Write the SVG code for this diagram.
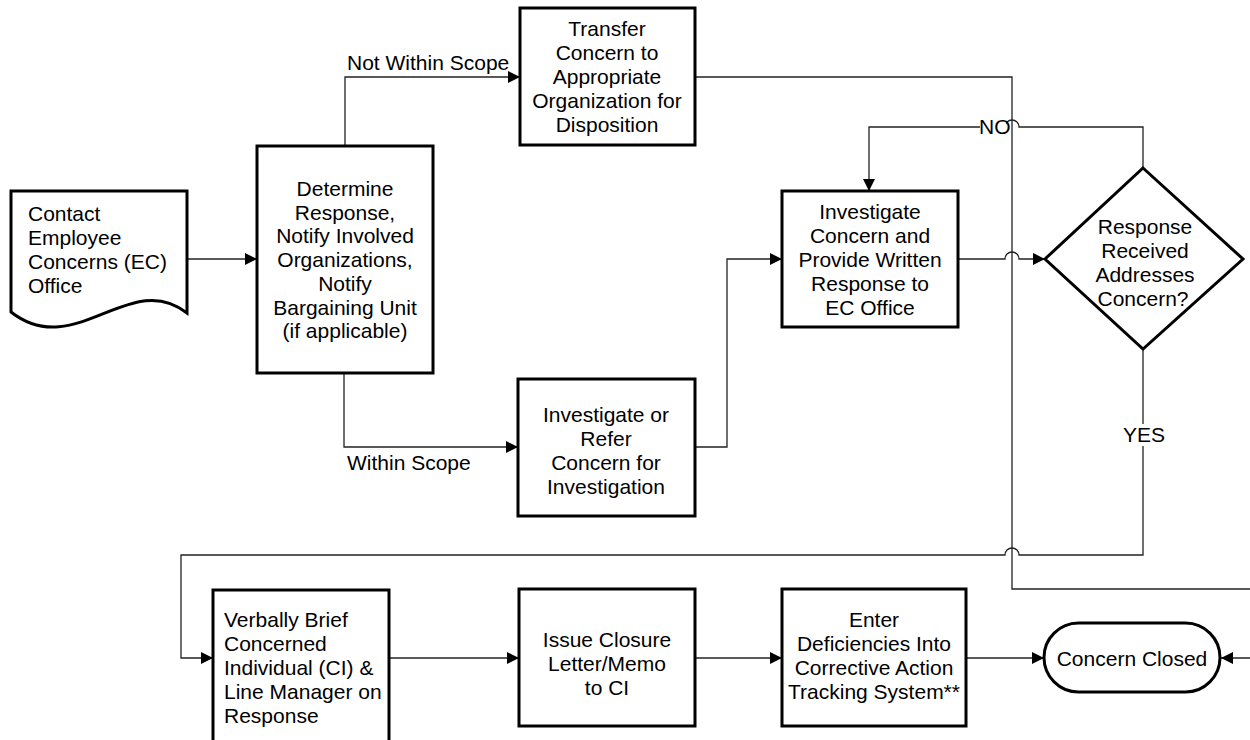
<svg xmlns="http://www.w3.org/2000/svg" width="1250" height="740" viewBox="0 0 1250 740">
<defs>
<marker id="arr" markerWidth="12" markerHeight="12" refX="12" refY="6" orient="auto" markerUnits="userSpaceOnUse">
<path d="M0,0 L12,6 L0,12 Z" fill="#000"/>
</marker>
<style>
.box{fill:#fff;stroke:#000;stroke-width:3}
.con{fill:none;stroke:#222;stroke-width:1.3}
text{font-family:"Liberation Sans",Arial,sans-serif;font-size:21px;fill:#000}
.c{text-anchor:middle}
.lbl{fill:#fff;stroke:none}
</style>
</defs>
<rect width="1250" height="740" fill="#fff"/>
<g id="connectors">
<path class="con" d="M187,259 H257" marker-end="url(#arr)"/>
<path class="con" d="M345,146 V77 H520" marker-end="url(#arr)"/>
<path class="con" d="M344,373 V447 H518" marker-end="url(#arr)"/>
<path class="con" d="M695,447 H727 V259 H782" marker-end="url(#arr)"/>
<path class="con" d="M695,77 H1012 V589 H1262 V658 H1221" marker-end="url(#arr)"/>
<path class="con" d="M958,259 H1005 A7,7 0 0 1 1019,259 H1045" marker-end="url(#arr)"/>
<path class="con" d="M1143,168 V127 H1019 A7,7 0 0 0 1005,127 H869 V191" marker-end="url(#arr)"/>
<path class="con" d="M1143,349 V555 H1019 A7,7 0 0 0 1005,555 H181 V658 H213" marker-end="url(#arr)"/>
<path class="con" d="M389,658 H519" marker-end="url(#arr)"/>
<path class="con" d="M695,658 H782" marker-end="url(#arr)"/>
<path class="con" d="M966,658 H1044" marker-end="url(#arr)"/>
<text x="347" y="70">Not Within Scope</text>
<text x="347" y="470">Within Scope</text>
<rect class="lbl" x="980" y="116" width="26" height="22"/>
<text x="979" y="134">NO</text>
<rect class="lbl" x="1122" y="424" width="44" height="22"/>
<text class="c" x="1144" y="442">YES</text>
</g>
<g id="contact">
<path class="box" d="M11,191 H187 V313 C130,268 75,362 11,312 Z"/>
<text x="28" y="221">Contact</text>
<text x="28" y="245">Employee</text>
<text x="28" y="269">Concerns (EC)</text>
<text x="28" y="293">Office</text>
</g>
<g id="determine">
<rect class="box" x="257" y="146" width="176" height="227"/>
<text class="c" x="345" y="196">Determine</text>
<text class="c" x="345" y="220">Response,</text>
<text class="c" x="345" y="243">Notify Involved</text>
<text class="c" x="345" y="267">Organizations,</text>
<text class="c" x="345" y="291">Notify</text>
<text class="c" x="345" y="315">Bargaining Unit</text>
<text class="c" x="345" y="338">(if applicable)</text>
</g>
<g id="transfer">
<rect class="box" x="520" y="8" width="175" height="137"/>
<text class="c" x="607" y="36">Transfer</text>
<text class="c" x="607" y="60">Concern to</text>
<text class="c" x="607" y="84">Appropriate</text>
<text class="c" x="607" y="108">Organization for</text>
<text class="c" x="607" y="132">Disposition</text>
</g>
<g id="investigate-refer">
<rect class="box" x="518" y="379" width="177" height="137"/>
<text class="c" x="606" y="422">Investigate or</text>
<text class="c" x="606" y="446">Refer</text>
<text class="c" x="606" y="470">Concern for</text>
<text class="c" x="606" y="494">Investigation</text>
</g>
<g id="investigate">
<rect class="box" x="782" y="191" width="176" height="136"/>
<text class="c" x="870" y="219">Investigate</text>
<text class="c" x="870" y="243">Concern and</text>
<text class="c" x="870" y="267">Provide Written</text>
<text class="c" x="870" y="291">Response to</text>
<text class="c" x="870" y="315">EC Office</text>
</g>
<g id="decision">
<path class="box" d="M1143,168 L1243,259 L1143,349 L1045,259 Z"/>
<text class="c" x="1145" y="234">Response</text>
<text class="c" x="1145" y="258">Received</text>
<text class="c" x="1145" y="282">Addresses</text>
<text class="c" x="1143" y="306">Concern?</text>
</g>
<g id="brief">
<rect class="box" x="213" y="590" width="176" height="160"/>
<text x="224" y="627">Verbally Brief</text>
<text x="224" y="651">Concerned</text>
<text x="224" y="675">Individual (CI) &amp;</text>
<text x="224" y="699">Line Manager on</text>
<text x="224" y="723">Response</text>
</g>
<g id="closure">
<rect class="box" x="519" y="589" width="176" height="137"/>
<text class="c" x="607" y="647">Issue Closure</text>
<text class="c" x="607" y="671">Letter/Memo</text>
<text class="c" x="607" y="695">to CI</text>
</g>
<g id="enter">
<rect class="box" x="782" y="589" width="184" height="137"/>
<text class="c" x="874" y="627">Enter</text>
<text class="c" x="874" y="651">Deficiencies Into</text>
<text class="c" x="874" y="675">Corrective Action</text>
<text class="c" x="874" y="699">Tracking System**</text>
</g>
<g id="closed">
<rect class="box" x="1044" y="623" width="176" height="69" rx="34.5"/>
<text class="c" x="1132" y="666">Concern Closed</text>
</g>
</svg>
